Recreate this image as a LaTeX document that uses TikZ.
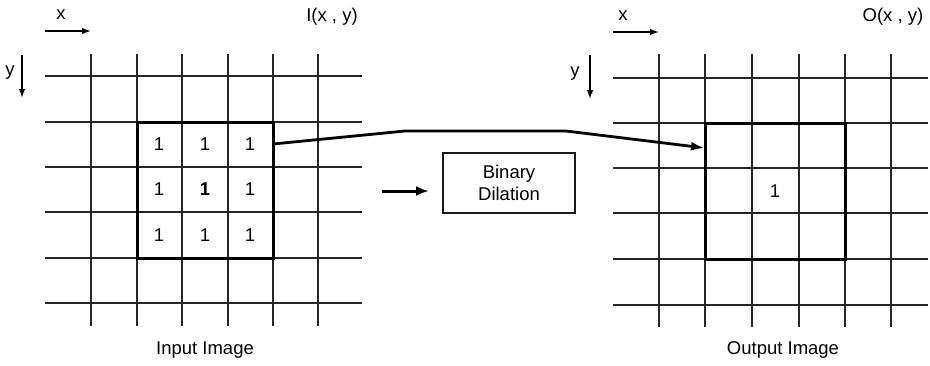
\documentclass[tikz,border=0pt]{standalone}
\usepackage{fontspec}
\setmainfont{Liberation Sans}
\usetikzlibrary{arrows.meta,calc}
\begin{document}
\begin{tikzpicture}[x=1pt,y=-1pt,
  gridline/.style={line width=1.3pt,draw=black!85},
  thickbox/.style={draw=black,line width=3pt},
  procbox/.style={draw=black!90,line width=2.2pt,inner sep=0pt,minimum width=132pt,minimum height=60pt,align=center,font=\fontsize{18.5}{22}\selectfont},
  lbl/.style={font=\fontsize{18.5}{21}\selectfont,inner sep=0pt},
  axis/.style={line width=1.4pt,-{Latex[length=9pt,width=6.5pt]}},
  conn/.style={line width=2.8pt,-{Latex[length=14pt,width=9pt]}},
  procarrow/.style={line width=3pt,-{Latex[length=13pt,width=10pt]}}]
\useasboundingbox (0,0) rectangle (930,365);
% left grid
\foreach \y in {76,122,167,212,258,303} \draw[gridline] (45,\y) -- (362,\y);
\foreach \x in {91,137,182,228,273,318} \draw[gridline] (\x,54) -- (\x,326);
% right grid
\foreach \y in {78,123,168,213,259,305} \draw[gridline] (613,\y) -- (928,\y);
\foreach \x in {659,705,752,799,845,891} \draw[gridline] (\x,54) -- (\x,327);
% boxes
\coordinate (inNW) at (137,122); \coordinate (inSE) at (273,258);
\coordinate (outNW) at (705,123); \coordinate (outSE) at (845,259);
\draw[thickbox] (inNW) rectangle (inSE);
\draw[thickbox] (outNW) rectangle (outSE);
% numbers
\node[lbl] (n11) at (159,144) {1};
\node[lbl] (n12) at (205,144) {1};
\node[lbl] (n13) at (250,144) {1};
\node[lbl] (n21) at (159,189) {1};
\node[lbl] (n22) at (205,189) {\textbf{1}};
\node[lbl] (n23) at (250,189) {1};
\node[lbl] (n31) at (159,235) {1};
\node[lbl] (n32) at (205,235) {1};
\node[lbl] (n33) at (250,235) {1};
\node[lbl] (o1) at (775,191) {1};
% axes left
\coordinate (lxa) at (45,31); \coordinate (lxb) at (91,31);
\draw[axis] (lxa) -- (lxb);
\node[lbl] (lx) at (61,15) {x};
\coordinate (lya) at (22,55); \coordinate (lyb) at (22,98);
\draw[axis] (lya) -- (lyb);
\node[lbl] (ly) at (10,73) {y};
\node[lbl] (ltitle) at (332,17) {I(x , y)};
% axes right
\coordinate (rxa) at (613,32); \coordinate (rxb) at (659,32);
\draw[axis] (rxa) -- (rxb);
\node[lbl] (rx) at (623,16) {x};
\coordinate (rya) at (590,55); \coordinate (ryb) at (590,99);
\draw[axis] (rya) -- (ryb);
\node[lbl] (ry) at (575,74) {y};
\node[lbl] (rtitle) at (893,17) {O(x , y)};
% captions
\node[lbl] (incap) at (205,350) {Input Image};
\node[lbl] (outcap) at (783,350) {Output Image};
% process
\node[procbox] (proc) at (509,183) {Binary\\Dilation};
\coordinate (pa) at (382,191);
\coordinate (pb) at (429,191);
\draw[procarrow] (pa) -- (pb);
% connector
\coordinate (k1) at (405,131);
\coordinate (k2) at (566,131);
\coordinate (cs) at (273,144);
\coordinate (ce) at (705,148);
\draw[conn] (cs) -- (k1) -- (k2) -- (ce);
\end{tikzpicture}
\end{document}
